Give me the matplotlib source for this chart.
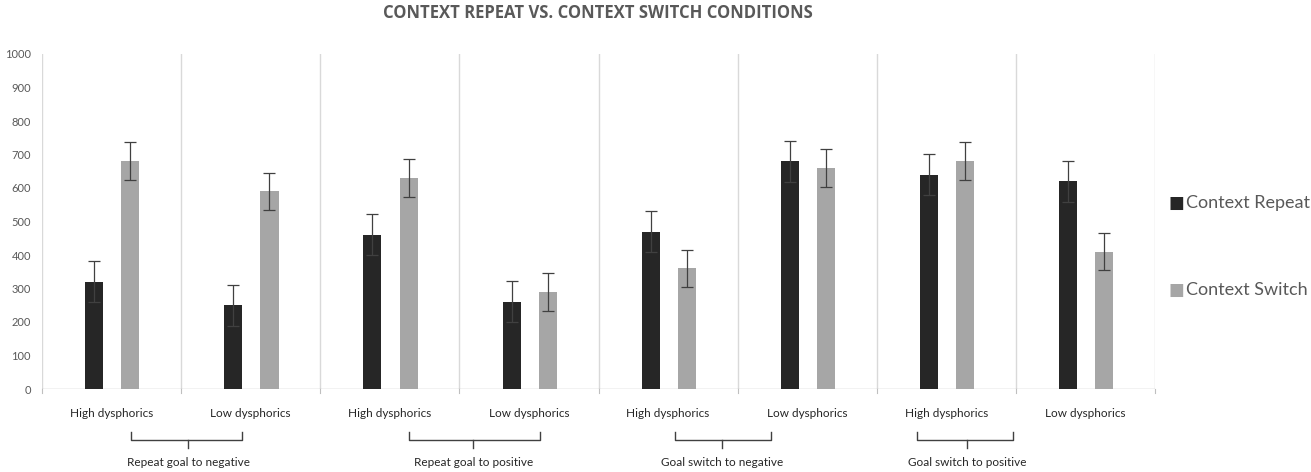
import matplotlib.pyplot as plt
import matplotlib.transforms as mtransforms
import numpy as np

# values
groups = ['High dysphorics', 'Low dysphorics', 'High dysphorics', 'Low dysphorics',
          'High dysphorics', 'Low dysphorics', 'High dysphorics', 'Low dysphorics']
repeat_vals = [320, 250, 460, 260, 470, 680, 640, 620]
switch_vals = [680, 590, 630, 290, 360, 660, 680, 410]
repeat_err = [61, 61, 61, 61, 61, 61, 61, 61]
switch_err = [56, 56, 56, 56, 56, 56, 56, 56]

conditions = ['Repeat goal to negative', 'Repeat goal to positive',
              'Goal switch to negative', 'Goal switch to positive']
# bracket spans (left, stem, right) in category units, drawn by hand in the original
brackets = [(0.14, 0.55, 0.94), (2.14, 2.60, 3.08), (4.05, 4.39, 4.74), (5.79, 6.15, 6.48)]

plt.rcParams['font.family'] = ['Lato', 'DejaVu Sans']

fig = plt.figure(figsize=(13.11, 4.72), dpi=100)
ax = fig.add_axes([42 / 1311, 1 - 389 / 472, (1155 - 42) / 1311, (389 - 54) / 472])

x = np.arange(len(groups))
w = 0.13
ax.bar(x - 0.125, repeat_vals, w, color='#262626', label='Context Repeat', zorder=3)
ax.bar(x + 0.135, switch_vals, w, color='#a6a6a6', label='Context Switch', zorder=3)
ax.errorbar(x - 0.125, repeat_vals, yerr=repeat_err, fmt='none', ecolor='#404040',
            elinewidth=0.9, capsize=4.5, capthick=0.9, zorder=4)
ax.errorbar(x + 0.135, switch_vals, yerr=switch_err, fmt='none', ecolor='#404040',
            elinewidth=0.9, capsize=4.5, capthick=0.9, zorder=4)

# category separators
for b in np.arange(-0.5, len(groups), 1.0):
    ax.plot([b, b], [0, 1000], color='#d9d9d9', lw=1, zorder=1)
    ax.plot([b, b], [0, -12], color='#bfbfbf', lw=0.8, clip_on=False, zorder=1)
ax.axhline(0, color='#bfbfbf', lw=1, zorder=2)

ax.set_xlim(-0.5, len(groups) - 0.5)
ax.set_ylim(0, 1000)
ax.set_yticks(range(0, 1001, 100))
ax.set_xticks(x)
ax.set_xticklabels(groups, fontsize=8.5, color='#262626')
ax.tick_params(axis='x', length=0, pad=14)
ax.tick_params(axis='y', length=0, labelsize=8, labelcolor='#595959', pad=8)
for s in ax.spines.values():
    s.set_visible(False)

# brackets and condition labels under the axis
trans = mtransforms.blended_transform_factory(ax.transData, ax.transAxes)
for (l, m, r), name in zip(brackets, conditions):
    ax.plot([l, l, r, r], [-0.128, -0.152, -0.152, -0.128], color='#404040', lw=1,
            transform=trans, clip_on=False)
    ax.plot([m, m], [-0.152, -0.176], color='#404040', lw=1, transform=trans, clip_on=False)
    ax.text(m, -0.218, name, fontsize=8.5, color='#262626', ha='center', va='center',
            transform=trans)

fig.text(598 / 1311, 1 - 13 / 472, 'CONTEXT REPEAT VS. CONTEXT SWITCH CONDITIONS',
         fontsize=12, fontweight='bold', color='#595959', ha='center', va='center',
         family='Open Sans')

# legend entries on the right
fig.text(1168 / 1311, 1 - 203 / 472, '\u25a0', fontsize=12, color='#262626',
         va='center', family='DejaVu Sans')
fig.text(1186 / 1311, 1 - 203 / 472, 'Context Repeat', fontsize=13, color='#595959',
         va='center')
fig.text(1168 / 1311, 1 - 290 / 472, '\u25a0', fontsize=12, color='#a6a6a6',
         va='center', family='DejaVu Sans')
fig.text(1186 / 1311, 1 - 290 / 472, 'Context Switch', fontsize=13, color='#595959',
         va='center')

fig.savefig('out.png', dpi=100)
